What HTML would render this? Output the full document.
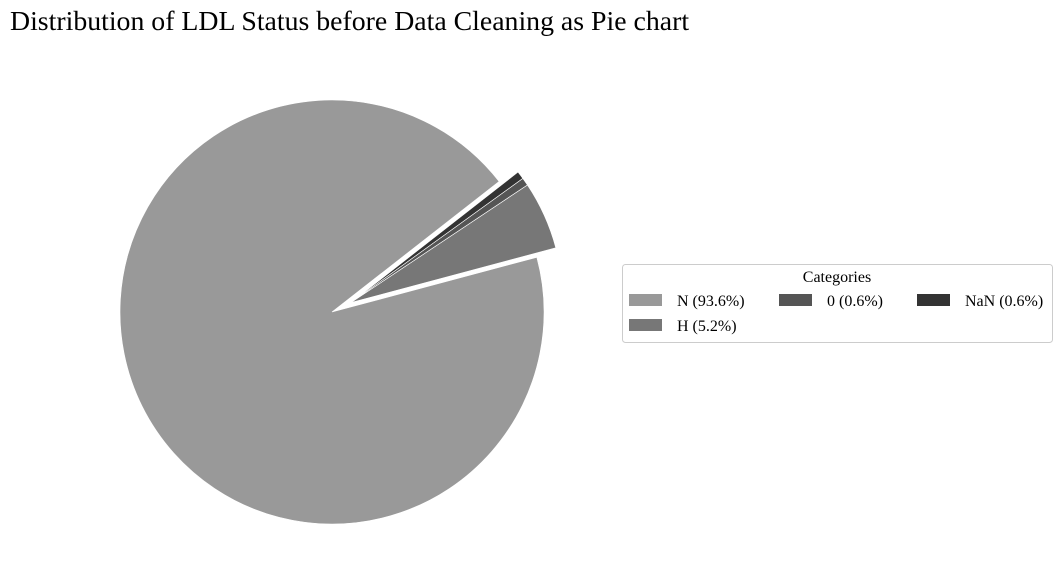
<!DOCTYPE html>
<html><head><meta charset="utf-8"><style>
body{margin:0;background:#fff;}
svg{display:block;font-family:"Liberation Serif",serif;}
</style></head><body>
<svg id="chart" width="1061" height="577" viewBox="0 0 1061 577">
<text x="10" y="30" font-size="27.8" fill="#000">Distribution of LDL Status before Data Cleaning as Pie chart</text>
<g id="slices"></g>
<g>
<rect x="622.5" y="264.5" width="430" height="78" rx="3" fill="#fff" stroke="#ccc"/>
<text x="837" y="282" font-size="16" text-anchor="middle">Categories</text>
<g id="legend-items"></g>
</g>
</svg>
<script>
const categories = ["N", "H", "0", "NaN"];
const values = [93.6, 5.2, 0.6, 0.6];
const explode = [0, 0.1, 0.1, 0.1];
const colors = ["#999999", "#777777", "#555555", "#333333"];
const startAngle = 38;
const cx = 332, cy = 312, R = 212;
const ns = "http://www.w3.org/2000/svg";
const g = document.getElementById("slices");
const total = values.reduce((a, b) => a + b, 0);
// common explode direction: mid-angle of the exploded group
let acc = startAngle, gs = null, ge = null;
values.forEach((v, i) => { const s = acc, e = acc + v / total * 360; if (explode[i] > 0) { if (gs === null) gs = s; ge = e; } acc = e; });
const gmid = ((gs + ge) / 2) * Math.PI / 180;
let a0 = startAngle;
values.forEach((v, i) => {
  const sweep = v / total * 360;
  const a1 = a0 + sweep;
  const ox = cx + explode[i] * R * Math.cos(gmid), oy = cy - explode[i] * R * Math.sin(gmid);
  const r0 = a0 * Math.PI / 180, r1 = a1 * Math.PI / 180;
  const x0 = ox + R * Math.cos(r0), y0 = oy - R * Math.sin(r0);
  const x1 = ox + R * Math.cos(r1), y1 = oy - R * Math.sin(r1);
  const large = sweep > 180 ? 1 : 0;
  const p = document.createElementNS(ns, "path");
  p.setAttribute("d", `M${ox},${oy} L${x0},${y0} A${R},${R} 0 ${large} 0 ${x1},${y1} Z`);
  p.setAttribute("fill", colors[i]);
  p.setAttribute("stroke", "#fff");
  p.setAttribute("stroke-width", "0.6");
  
  
  g.appendChild(p);
  a0 = a1;
});
const lg = document.getElementById("legend-items");
const pos = [[629, 300], [629, 325], [779, 300], [917, 300]];
categories.forEach((c, i) => {
  const r = document.createElementNS(ns, "rect");
  r.setAttribute("x", pos[i][0]); r.setAttribute("y", pos[i][1] - 6);
  r.setAttribute("width", 33); r.setAttribute("height", 12);
  r.setAttribute("fill", colors[i]);
  
  
  lg.appendChild(r);
  const t = document.createElementNS(ns, "text");
  t.setAttribute("x", pos[i][0] + 48); t.setAttribute("y", pos[i][1] + 6);
  t.setAttribute("font-size", "16");
  t.textContent = c + " (" + (values[i] / total * 100).toFixed(1) + "%)";
  
  
  lg.appendChild(t);
});
</script>
</body></html>
